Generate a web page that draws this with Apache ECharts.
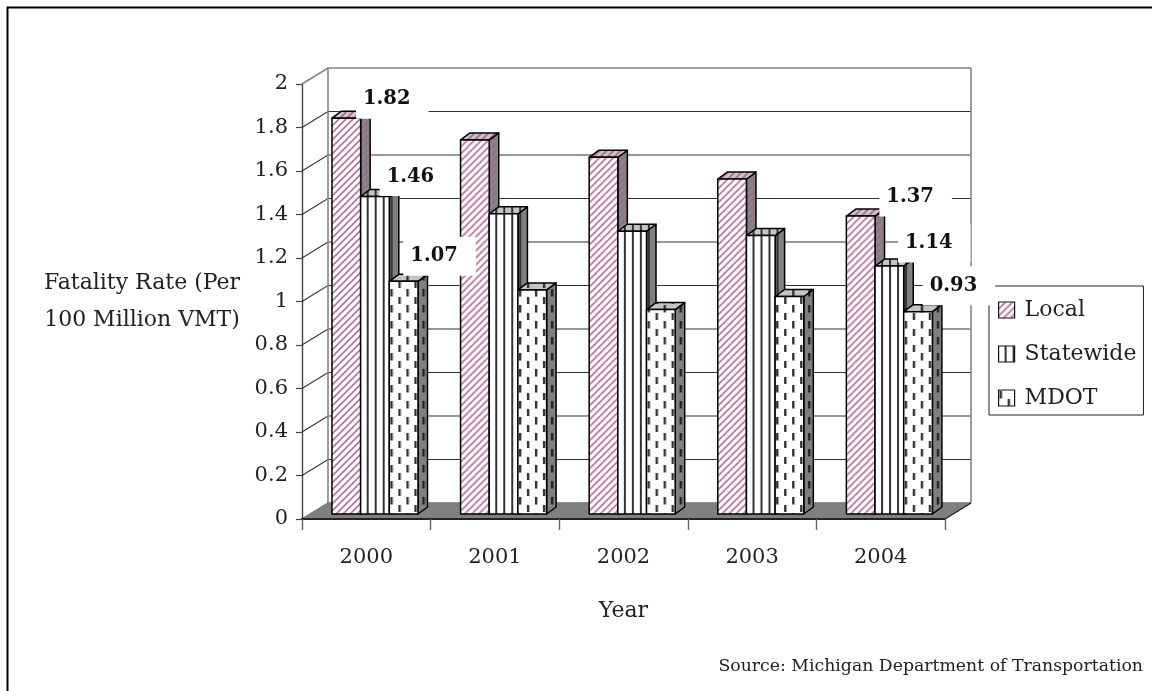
<!DOCTYPE html>
<html>
<head>
<meta charset="utf-8">
<style>html,body{margin:0;padding:0;background:#fff}#chart{width:1152px;height:691px}</style>
<script src="https://cdn.jsdelivr.net/npm/echarts@6/dist/echarts.min.js"></script>
</head>
<body>
<div id="chart"></div>
<script>
// Fatality rates per 100 million vehicle miles travelled
const years = ['2000', '2001', '2002', '2003', '2004'];
const local = [1.82, 1.72, 1.64, 1.54, 1.37];
const statewide = [1.46, 1.38, 1.30, 1.28, 1.14];
const mdot = [1.07, 1.03, 0.94, 1.00, 0.93];
const gridValues = [0, 0.2, 0.4, 0.6, 0.8, 1, 1.2, 1.4, 1.6, 1.8, 2];
const labelledYears = [0, 4];

// Text offset from the bar's front-top-left corner, per series then per labelled year
const labelOffsets = [
  [[31, -19], [40, -19]],
  [[26, -20], [30, -23]],
  [[21, -25], [26, -26]]
];

const FONT = '"DejaVu Serif", serif';
const WALL_DX = 26, WALL_DY = -16;      // depth of the chart box
const BAR_DX = 9.5, BAR_DY = -7;        // depth of each bar
const BAR_LIFT = 5;                     // bars stand part-way back on the floor
const BAR_SHARE = 0.223;                // bar width as a share of the category band
const GROUP_START = -0.267;             // first bar's left edge from the band centre
const WALL_COLOR = '#858585';
const PLATE_PADDING = [12, 18, 7, 7];

function tile(w, h, bg, paint) {
  const c = document.createElement('canvas');
  c.width = w; c.height = h;
  const g = c.getContext('2d');
  g.fillStyle = bg; g.fillRect(0, 0, w, h);
  paint(g);
  return c;
}
function diagonal(bg, fg) {
  return tile(7, 7, bg, g => {
    g.strokeStyle = fg; g.lineWidth = 1.6;
    [[-1, 1, 1, -1], [-1, 8, 8, -1], [6, 8, 8, 6]].forEach(s => {
      g.beginPath(); g.moveTo(s[0], s[1]); g.lineTo(s[2], s[3]); g.stroke();
    });
  });
}
function vertical(bg, fg) {
  return tile(8, 8, bg, g => { g.fillStyle = fg; g.fillRect(6, 0, 2, 8); });
}
function dashes(bg, fg) {
  return tile(16, 16, bg, g => {
    g.fillStyle = fg;
    g.fillRect(1, 1, 2.4, 7.5);
    g.fillRect(9, 9, 2.4, 7);
  });
}
const faces = [
  { front: diagonal('#ffffff', '#bb6f9a'), top: diagonal('#d2c4cb', '#a9648a'), side: diagonal('#808080', '#ab7892') },
  { front: vertical('#ffffff', '#333333'), top: vertical('#c4c4c4', '#333333'), side: vertical('#808080', '#333333') },
  { front: dashes('#ffffff', '#333333'), top: dashes('#c4c4c4', '#333333'), side: dashes('#808080', '#222222') }
];
const seriesValues = [local, statewide, mdot];
const seriesNames = ['Local', 'Statewide', 'MDOT'];

function pattern(image, x) {
  return { image: image, repeat: 'repeat', x: x, y: 0 };
}

// One bar: front face, top face and right face
function renderBar(seriesIdx) {
  return function (params, api) {
    const band = api.size([1, 0])[0];
    const cat = api.value(0);
    const base = api.coord([cat, 0]);
    const top = api.coord([cat, api.value(1)]);
    const w = band * BAR_SHARE;
    const x = base[0] + band * GROUP_START + seriesIdx * w;
    const y0 = base[1] - BAR_LIFT, y1 = top[1] - BAR_LIFT;
    const f = faces[seriesIdx];
    const line = { stroke: '#000', lineWidth: 1.5, lineJoin: 'round' };
    return {
      type: 'group',
      children: [
        { type: 'polygon',
          shape: { points: [[x + w, y1], [x + w + BAR_DX, y1 + BAR_DY], [x + w + BAR_DX, y0 + BAR_DY], [x + w, y0]] },
          style: Object.assign({ fill: pattern(f.side, x) }, line) },
        { type: 'polygon',
          shape: { points: [[x, y1], [x + BAR_DX, y1 + BAR_DY], [x + w + BAR_DX, y1 + BAR_DY], [x + w, y1]] },
          style: Object.assign({ fill: pattern(f.top, x) }, line) },
        { type: 'rect',
          shape: { x: x, y: y1, width: w, height: y0 - y1 },
          style: Object.assign({ fill: pattern(f.front, x) }, line) }
      ]
    };
  };
}

// Gridlines wrapping round the side and back walls
function renderGridline(params, api) {
  const v = api.value(1);
  const p = api.coord([0, v]);
  const cs = params.coordSys;
  const isTop = v === gridValues[gridValues.length - 1];
  return {
    type: 'polyline',
    shape: { points: [[cs.x, p[1]], [cs.x + WALL_DX, p[1] + WALL_DY], [cs.x + cs.width + WALL_DX, p[1] + WALL_DY]] },
    style: { fill: null, stroke: isTop ? WALL_COLOR : '#333', lineWidth: isTop ? 1.6 : 1.1 }
  };
}

// Back wall edges and the grey floor
function renderBox(params, api) {
  const cs = params.coordSys;
  const y0 = api.coord([0, api.value(1)])[1];
  const yTop = api.coord([0, api.value(2)])[1];
  const r = cs.x + cs.width;
  return {
    type: 'group',
    children: [
      { type: 'line', shape: { x1: cs.x + WALL_DX, y1: yTop + WALL_DY, x2: cs.x + WALL_DX, y2: y0 + WALL_DY },
        style: { stroke: WALL_COLOR, lineWidth: 1.6 } },
      { type: 'line', shape: { x1: r + WALL_DX, y1: yTop + WALL_DY, x2: r + WALL_DX, y2: y0 + WALL_DY },
        style: { stroke: WALL_COLOR, lineWidth: 1.6 } },
      { type: 'polygon',
        shape: { points: [[cs.x, y0], [cs.x + WALL_DX, y0 + WALL_DY], [r + WALL_DX, y0 + WALL_DY], [r, y0]] },
        style: { fill: '#808080', stroke: '#808080', lineWidth: 1 } },
      { type: 'line', shape: { x1: r, y1: y0, x2: r + WALL_DX, y2: y0 + WALL_DY },
        style: { stroke: '#222', lineWidth: 1.2 } }
    ]
  };
}

// Value labels on white plates that hide whatever lies behind them
function renderLabel(params, api) {
  const band = api.size([1, 0])[0];
  const s = api.value(2), slot = api.value(3);
  const p = api.coord([api.value(0), api.value(1)]);
  const x = p[0] + band * GROUP_START + s * band * BAR_SHARE + labelOffsets[s][slot][0];
  const y = p[1] - BAR_LIFT + labelOffsets[s][slot][1];
  return {
    type: 'text',
    style: {
      x: x - PLATE_PADDING[3], y: y,
      text: api.value(1).toFixed(2),
      font: 'bold 19.5px ' + FONT,
      fill: '#111',
      align: 'left', verticalAlign: 'middle',
      backgroundColor: '#fff',
      padding: PLATE_PADDING
    }
  };
}

const labelData = [];
seriesValues.forEach((vals, s) => labelledYears.forEach((y, slot) => labelData.push([y, vals[y], s, slot])));

const series = [
  { type: 'custom', name: 'gridlines', renderItem: renderGridline, silent: true, z: 1,
    data: gridValues.map(v => [0, v]), encode: { x: 0, y: 1 } },
  { type: 'custom', name: 'box', renderItem: renderBox, silent: true, z: 2,
    data: [[0, gridValues[0], gridValues[gridValues.length - 1]]], encode: { x: 0, y: 1 } }
];
seriesValues.forEach((vals, s) => series.push({
  type: 'custom', name: seriesNames[s], renderItem: renderBar(s), z: 3 + s,
  data: vals.map((v, i) => [i, v]), encode: { x: 0, y: 1 }
}));
series.push({ type: 'custom', name: 'labels', renderItem: renderLabel, silent: true, z: 10,
  data: labelData, encode: { x: 0, y: 1 } });

const chart = echarts.init(document.getElementById('chart'), null, { renderer: 'canvas' });
chart.setOption({
  animation: false,
  backgroundColor: '#fff',
  grid: { left: 302, right: 207, top: 84, bottom: 172 },
  xAxis: {
    type: 'category', data: years,
    name: 'Year', nameLocation: 'middle', nameGap: 81,
    nameTextStyle: { fontFamily: FONT, fontSize: 22, color: '#222' },
    axisLine: { show: true, onZero: false, lineStyle: { color: '#222', width: 2 } },
    axisTick: { show: true, length: 11, lineStyle: { color: '#666', width: 1.4 } },
    axisLabel: { show: true, fontFamily: FONT, fontSize: 21, color: '#222', margin: 28 },
    z: 20
  },
  yAxis: {
    type: 'value', min: 0, max: 2, interval: 0.2,
    name: 'Fatality Rate (Per\n100 Million VMT)', nameLocation: 'middle', nameRotate: 0, nameGap: 160,
    nameTextStyle: { fontFamily: FONT, fontSize: 22, color: '#222', lineHeight: 37, align: 'center' },
    splitLine: { show: false },
    axisLine: { show: true, lineStyle: { color: '#444', width: 1.4 } },
    axisTick: { show: true, length: 6, lineStyle: { color: '#444', width: 1.2 } },
    axisLabel: { fontFamily: FONT, fontSize: 21, color: '#222', margin: 14 }
  },
  legend: {
    orient: 'vertical', left: 989, top: 286,
    backgroundColor: '#fff', borderColor: '#222', borderWidth: 1,
    padding: [13, 7, 6, 9], itemGap: 22, itemWidth: 16, itemHeight: 16,
    selectedMode: false,
    textStyle: { fontFamily: FONT, fontSize: 22, color: '#222', padding: [0, 0, 0, 5] },
    data: seriesNames.map((n, s) => ({
      name: n, icon: 'rect',
      itemStyle: { color: { image: faces[s].front, repeat: 'repeat' }, borderColor: '#111', borderWidth: 1.2 }
    }))
  },
  graphic: [
    { type: 'polyline', silent: true, shape: { points: [[7.5, 691], [7.5, 7.5], [1152, 7.5]] },
      style: { fill: null, stroke: '#000', lineWidth: 2 } },
    { type: 'text', silent: true, x: 1143, y: 667,
      style: { text: 'Source: Michigan Department of Transportation', font: '17.3px ' + FONT, fill: '#222', align: 'right', verticalAlign: 'middle' } }
  ],
  series: series
});
</script>
</body>
</html>
